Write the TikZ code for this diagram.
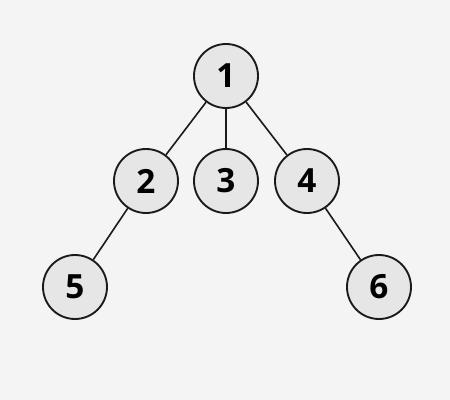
\documentclass[tikz,border=0pt]{standalone}
\usepackage{fontspec}
\setmainfont{Open Sans}[BoldFont={* Bold}]
\definecolor{bgc}{HTML}{F4F4F4}
\definecolor{nodefill}{HTML}{E6E6E6}
\definecolor{edgec}{HTML}{1A1A1A}
\begin{document}
\begin{tikzpicture}[x=0.75pt,y=-0.75pt,
  treenode/.style={circle,draw=edgec,fill=nodefill,line width=1.4pt,minimum size=48pt,inner sep=0pt,font=\fontsize{25}{28}\selectfont\bfseries,text=black},
  treeedge/.style={draw=edgec,line width=1.2pt}]
\fill[bgc] (0,0) rectangle (450,400);
\useasboundingbox (0,0) rectangle (450,400);
\node[treenode] (n1) at (226,76) {1};
\node[treenode] (n2) at (146,181) {2};
\node[treenode] (n3) at (226,181) {3};
\node[treenode] (n4) at (307,181) {4};
\node[treenode] (n5) at (75,287) {5};
\node[treenode] (n6) at (379,287) {6};
\draw[treeedge] (n1) -- (n2);
\draw[treeedge] (n1) -- (n3);
\draw[treeedge] (n1) -- (n4);
\draw[treeedge] (n2) -- (n5);
\draw[treeedge] (n4) -- (n6);
\end{tikzpicture}
\end{document}
